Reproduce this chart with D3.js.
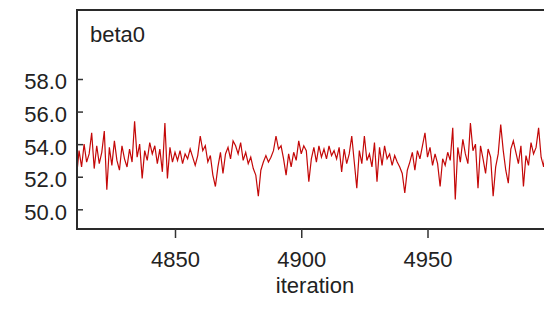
<!DOCTYPE html>
<html>
<head>
<meta charset="utf-8">
<script src="https://cdn.jsdelivr.net/npm/d3@7"></script>
<style>
  html, body { margin: 0; padding: 0; background: #fff; overflow: hidden; }
  svg { display: block; }
  text { font-family: "Liberation Sans", Arial, sans-serif; fill: #222; }
</style>
</head>
<body>
<svg id="chart" width="544" height="327"></svg>
<script>
const title = "beta0";
const xLabel = "iteration";
const startIteration = 4811;
const beta0 = [
  52.0, 53.6, 52.6, 54.0, 52.9, 53.4, 54.7, 52.5, 53.9, 52.8,
  53.5, 54.8, 51.2, 53.8, 52.7, 54.2, 53.0, 52.4, 53.9, 53.1,
  52.6, 53.7, 52.9, 55.4, 53.2, 54.0, 51.9, 53.6, 53.0, 54.1,
  53.4, 53.9, 52.8, 53.7, 52.3, 55.3, 51.9, 53.8, 52.9, 53.5,
  53.0, 53.6, 52.8, 53.4, 53.1, 53.7, 53.2, 52.7, 53.3, 54.5,
  53.6, 53.9, 52.9, 53.3, 52.1, 51.4, 52.6, 53.5, 52.2, 53.4,
  53.8, 53.1, 54.2, 53.9, 53.4, 54.1, 53.0, 53.5, 52.8, 53.2,
  52.5, 52.1, 50.8, 52.4, 52.9, 53.3, 52.9, 53.2, 53.6, 54.5,
  53.7, 53.9, 53.1, 52.1, 53.4, 52.6, 53.5, 53.0, 54.2, 53.4,
  53.9, 53.6, 51.7, 53.1, 53.8, 52.9, 53.9, 53.2, 53.7, 53.1,
  53.9, 53.3, 53.6, 53.1, 53.8, 52.3, 53.7, 52.8, 53.4, 54.5,
  52.9, 51.3, 53.6, 52.8, 54.5, 53.0, 53.4, 52.6, 54.1, 51.7,
  53.8, 52.7, 53.9, 53.1, 53.4, 52.7, 53.3, 52.9, 52.6, 52.2,
  51.0, 52.4, 52.9, 53.5, 52.4, 53.6, 53.1, 53.9, 54.7, 53.2,
  53.8, 52.7, 53.4, 52.8, 51.4, 53.1, 52.7, 53.5, 53.0, 55.0,
  50.6, 53.8, 52.9, 54.3, 53.4, 52.8, 55.3, 53.6, 54.0, 51.3,
  53.9, 53.1, 52.2, 53.7, 53.2, 50.8, 52.6, 53.4, 55.2, 53.6,
  52.4, 51.6, 53.7, 54.2, 53.5, 52.8, 53.9, 51.4, 53.3, 52.7,
  54.1, 53.4, 53.8, 55.0, 53.2, 52.6, 54.0, 53.1, 53.7, 52.9
];
const xTicks = [4850, 4900, 4950];
const yTicks = [50, 52, 54, 56, 58];

const data = beta0.map((v, i) => ({ it: startIteration + i, v }));

const svg = d3.select("#chart");
const frame = { left: 77, top: 10, right: 570, bottom: 229 };

const x = d3.scaleLinear().domain([4850, 4950]).range([175, 427.5]);
const y = d3.scaleLinear().domain([50, 58]).range([209.3, 79]);

svg.append("clipPath").attr("id", "clip")
  .append("rect")
  .attr("x", frame.left).attr("y", frame.top)
  .attr("width", frame.right - frame.left).attr("height", frame.bottom - frame.top);

const line = d3.line().x(d => x(d.it)).y(d => y(d.v));
svg.append("path")
  .datum(data)
  .attr("clip-path", "url(#clip)")
  .attr("fill", "none")
  .attr("stroke", "#c40808")
  .attr("stroke-width", 1.2)
  .attr("d", line);

// frame
svg.append("rect")
  .attr("x", frame.left).attr("y", frame.top)
  .attr("width", frame.right - frame.left).attr("height", frame.bottom - frame.top)
  .attr("fill", "none").attr("stroke", "#2a2a2a").attr("stroke-width", 2);

// y axis (ticks inward)
const yAxis = d3.axisRight(y).tickValues(yTicks).tickSize(6).tickFormat(d3.format(".1f"));
const gy = svg.append("g").attr("transform", `translate(${frame.left},0)`).call(yAxis);
gy.select(".domain").remove();
gy.selectAll(".tick line").attr("stroke", "#333").attr("stroke-width", 1.5);
gy.selectAll(".tick text")
  .attr("x", -10).attr("dy", "0.45em")
  .attr("text-anchor", "end")
  .style("font-size", "22px")
  .style("fill", "#222");

// x axis (ticks outward)
const xAxis = d3.axisBottom(x).tickValues(xTicks).tickSize(9).tickFormat(d3.format("d"));
const gx = svg.append("g").attr("transform", `translate(0,${frame.bottom})`).call(xAxis);
gx.select(".domain").remove();
gx.selectAll(".tick line").attr("stroke", "#333").attr("stroke-width", 1.5);
gx.selectAll(".tick text")
  .attr("y", 22).attr("dy", "0.71em")
  .style("font-size", "22px")
  .style("fill", "#222");

svg.append("text")
  .attr("x", 90).attr("y", 42)
  .style("font-size", "22px")
  .text(title);

svg.append("text")
  .attr("x", 315).attr("y", 293)
  .attr("text-anchor", "middle")
  .style("font-size", "22px")
  .text(xLabel);
</script>
</body>
</html>
